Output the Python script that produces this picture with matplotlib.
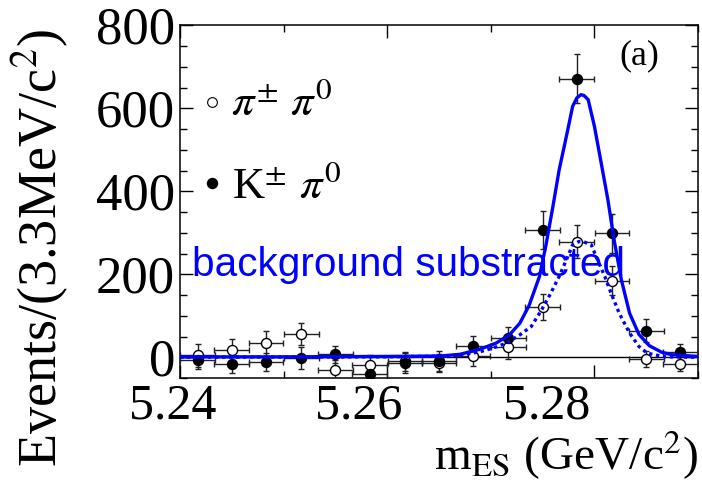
import matplotlib
matplotlib.use("Agg")
import matplotlib.pyplot as plt
import matplotlib.transforms as mtransforms
from matplotlib.ticker import MultipleLocator, FixedLocator

plt.rcParams['font.family'] = ['Liberation Serif', 'DejaVu Serif']
plt.rcParams['mathtext.fontset'] = 'stix'

# m_ES bin centres (GeV/c^2), 3.3 MeV bins
bin_centers = [5.2417, 5.2450, 5.2483, 5.2517, 5.2550, 5.2583, 5.2617, 5.2650,
               5.2683, 5.2717, 5.2750, 5.2783, 5.2817, 5.2850, 5.2883]
bin_halfwidth = 0.00167

# K+- pi0, background subtracted
kpi_counts = [-7, -17, -11, -2, 7, -40, -13, -8, 26, 47, 306, 672, 299, 64, 13]
kpi_errs = [22, 20, 22, 27, 20, 22, 24, 24, 26, 26, 46, 59, 47, 28, 20]

# pi+- pi0, background subtracted
pipi_counts = [5, 17, 34, 56, -31, -19, -10, -14, 4, 24, 122, 279, 185, -4, -16]
pipi_errs = [28, 28, 30, 27, 25, 24, 22, 22, 25, 28, 31, 40, 36, 19, 18]

# fitted signal shapes
kpi_fit_x = [5.2400, 5.2500, 5.2600, 5.2651, 5.2670, 5.2689, 5.2705, 5.2718,
             5.2728, 5.2737, 5.2747, 5.2753, 5.2760, 5.2766, 5.2773, 5.2779,
             5.2783, 5.2787, 5.2790, 5.2794, 5.2800, 5.2806, 5.2813, 5.2819,
             5.2826, 5.2834, 5.2843, 5.2853, 5.2865, 5.2875, 5.2900]
kpi_fit_y = [1, 1, 2, 3, 7, 19, 34, 54,
             82, 125, 195, 267, 364, 452, 533, 605,
             625, 633, 631, 621, 557, 476, 380, 283,
             187, 106, 55, 28, 12, 6, 2]

pipi_fit_x = [5.2400, 5.2600, 5.2657, 5.2670, 5.2689, 5.2702, 5.2715, 5.2728,
              5.2739, 5.2749, 5.2758, 5.2766, 5.2773, 5.2779, 5.2785, 5.2790,
              5.2797, 5.2803, 5.2810, 5.2816, 5.2824, 5.2834, 5.2843, 5.2851,
              5.2860, 5.2869, 5.2900]
pipi_fit_y = [0, 1, 3, 5, 13, 22, 34, 54,
              74, 114, 155, 195, 235, 271, 279, 278,
              271, 235, 195, 155, 106, 58, 26, 10,
              5, 1, 0]

xtick_major = [5.24, 5.26, 5.28]
xtick_labels = ['5.24', '5.26', '5.28']
xtick_shift_pt = [-5.4, -20.4, -34.2]

fig = plt.figure(figsize=(7.02, 4.97), dpi=100)
ax = fig.add_axes([180 / 702, 1 - 378 / 497, 518 / 702, 353 / 497])

ax.axhline(0, color='black', lw=1.0, zorder=1)

eb_style = dict(fmt='o', ms=7.2, ecolor='#222222', elinewidth=1.0,
                capsize=2.2, capthick=1.0, mec='black', mew=1.0, zorder=3)
ax.errorbar(bin_centers, pipi_counts, xerr=bin_halfwidth, yerr=pipi_errs,
            mfc='white', **eb_style)
ax.errorbar(bin_centers, kpi_counts, xerr=bin_halfwidth, yerr=kpi_errs,
            mfc='black', **eb_style)

ax.plot(kpi_fit_x, kpi_fit_y, color='#0000ff', lw=2.4, zorder=4,
        solid_joinstyle='round')
ax.plot(pipi_fit_x, pipi_fit_y, color='#0000ff', lw=2.4, zorder=4,
        linestyle=(0, (1, 1.1)))

ax.set_xlim(5.24, 5.29)
ax.set_ylim(-50, 801)

ax.xaxis.set_major_locator(FixedLocator(xtick_major))
ax.set_xticklabels(xtick_labels)
ax.xaxis.set_minor_locator(MultipleLocator(0.01))
ax.yaxis.set_major_locator(MultipleLocator(200))
ax.yaxis.set_minor_locator(MultipleLocator(50))
ax.tick_params(which='both', direction='in', top=True, right=True,
               width=1.0, color='black')
ax.tick_params(which='major', length=9.4)
ax.tick_params(which='minor', length=5.0)
ax.tick_params(axis='x', labelsize=36, pad=3.5)
ax.tick_params(axis='y', labelsize=38, pad=3.5)
for sp in ax.spines.values():
    sp.set_linewidth(1.1)

for lab, dx in zip(ax.get_xticklabels(), xtick_shift_pt):
    lab.set_transform(lab.get_transform() +
                      mtransforms.ScaledTranslation(dx / 72, 0, fig.dpi_scale_trans))

# legend keys and labels
ax.plot([0.061], [0.783], 'o', ms=7.0, mfc='white', mec='black', mew=0.8,
        transform=ax.transAxes, clip_on=False)
ax.plot([0.062], [0.552], 'o', ms=7.2, mfc='black', mec='black',
        transform=ax.transAxes, clip_on=False)
ax.text(0.098, 0.745, r'$\pi^{\pm}\ \pi^{0}$', transform=ax.transAxes,
        fontsize=32, va='baseline', ha='left')
ax.text(0.100, 0.510, r'K$^{\pm}$ $\pi^{0}$', transform=ax.transAxes,
        fontsize=32, va='baseline', ha='left')

ax.text(0.886, 0.912, '(a)', transform=ax.transAxes, fontsize=26,
        ha='center', va='center')
ax.text(0.024, 0.289, 'background substracted', transform=ax.transAxes,
        fontsize=29.2, color='#0000ff', family='Liberation Sans',
        va='baseline', ha='left', zorder=5)

fig.text(40 / 702, 1 - 248 / 497, r'Events/(3.3MeV/c$^{2}$)', rotation=90,
         fontsize=39, ha='center', va='center')
fig.text(698 / 702, 1 - 470 / 497, r'm$_{\mathrm{ES}}$ (GeV/c$^{2}$)',
         fontsize=34, ha='right', va='baseline')

fig.savefig('out.png', dpi=100)
